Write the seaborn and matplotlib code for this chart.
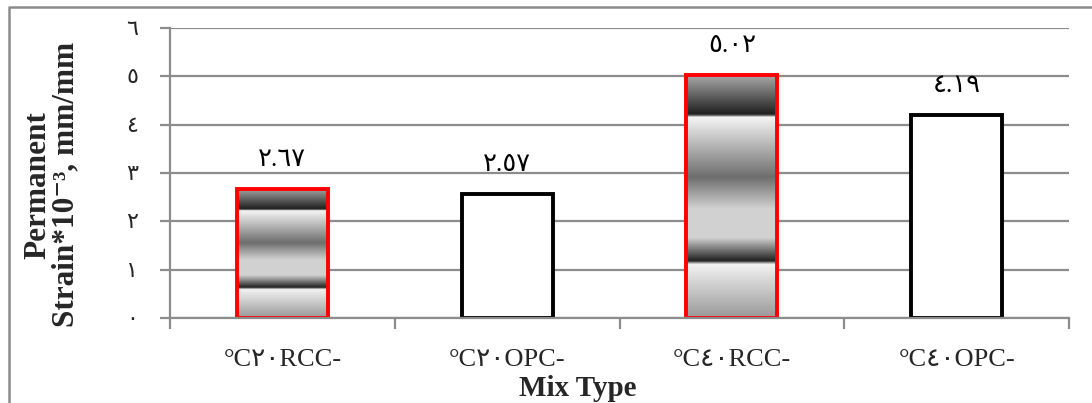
import numpy as np
import pandas as pd
import seaborn as sns
import matplotlib
matplotlib.use("Agg")
import matplotlib.pyplot as plt
from matplotlib.colors import LinearSegmentedColormap
from matplotlib.lines import Line2D

# ---- data ----
mix_labels = ["°C٢٠RCC-", "°C٢٠OPC-", "°C٤٠RCC-", "°C٤٠OPC-"]
strain_values = [2.67, 2.57, 5.02, 4.19]
is_rcc = [True, False, True, False]
y_ticks = [0, 1, 2, 3, 4, 5, 6]

ARABIC = str.maketrans("0123456789", "٠١٢٣٤٥٦٧٨٩")


def to_arabic(v):
    return str(v).translate(ARABIC)


sns.set_theme(style="white")
plt.rcParams["font.family"] = ["Liberation Serif", "DejaVu Sans"]

fig = plt.figure(figsize=(10.92, 4.03), dpi=100)
ax = fig.add_axes([170 / 1092, 1 - 318 / 403, (1069 - 170) / 1092, 290 / 403])

df = pd.DataFrame({"mix": mix_labels, "strain": strain_values})
sns.barplot(data=df, x="mix", y="strain", ax=ax, width=0.405,
            color="white", saturation=1, order=mix_labels)

# horizontal gridlines
ax.set_axisbelow(True)
ax.yaxis.grid(True, color="#8c8c8c", linewidth=1.6)
ax.xaxis.grid(False)

# banded metallic fill used for RCC bars (fraction from top, grey level)
stops = [(0.0, 0.66), (0.16, 0.12), (0.172, 0.96), (0.42, 0.43),
         (0.55, 0.82), (0.67, 0.82), (0.765, 0.13), (0.78, 0.95),
         (1.0, 0.6)]
band_cmap = LinearSegmentedColormap.from_list(
    "bands", [(p, (g, g, g)) for p, g in stops], N=512)
ramp = np.linspace(0, 1, 400).reshape(-1, 1)

bars = list(ax.patches)
for patch, rcc in zip(bars, is_rcc):
    patch.set_linewidth(2.8)
    patch.set_zorder(3)
    if rcc:
        patch.set_edgecolor("#ff0000")
        patch.set_facecolor("none")
        x0, w, h = patch.get_x(), patch.get_width(), patch.get_height()
        ax.imshow(ramp, cmap=band_cmap, vmin=0, vmax=1, aspect="auto",
                  origin="upper", extent=(x0, x0 + w, 0, h),
                  interpolation="bilinear", zorder=2.5)
    else:
        patch.set_edgecolor("black")
        patch.set_facecolor("white")

ax.set_ylim(0, 6)
ax.set_xlim(-0.5, len(mix_labels) - 0.5)

# value labels above bars
for patch, v in zip(bars, strain_values):
    ax.annotate(to_arabic(f"{v:.2f}"),
                (patch.get_x() + patch.get_width() / 2, patch.get_height()),
                xytext=(0, 13), textcoords="offset points",
                ha="center", va="bottom", fontsize=18.5, color="black")

ax.set_yticks(y_ticks)
ax.set_yticklabels([to_arabic(t) for t in y_ticks], fontsize=16)
ax.set_xticks(range(len(mix_labels)))
ax.set_xticklabels(mix_labels, fontsize=19)
ax.tick_params(axis="y", length=7, width=1.6, color="#8c8c8c", pad=16,
               left=True)
ax.tick_params(axis="x", length=0, pad=22)

# category boundary ticks on the x axis
ax.set_xticks(np.arange(-0.5, len(mix_labels), 1.0), minor=True)
ax.tick_params(axis="x", which="minor", length=8, width=1.6,
               color="#8c8c8c", bottom=True)

for side in ["top", "right"]:
    ax.spines[side].set_visible(False)
for side in ["left", "bottom"]:
    ax.spines[side].set_color("#8c8c8c")
    ax.spines[side].set_linewidth(1.6)
    ax.spines[side].set_zorder(4)

ax.set_xlabel("")
ax.set_ylabel("")
fig.text(38 / 1092, 1 - 185 / 403, "Permanent", rotation=90,
         ha="center", va="center", fontsize=22.5, fontweight="bold")
fig.text(66 / 1092, 1 - 184 / 403, "Strain*10⁻³, mm/mm", rotation=90,
         ha="center", va="center", fontsize=22.5, fontweight="bold",
         family=["Liberation Serif", "DejaVu Serif"])
fig.text(578 / 1092, 1 - 388 / 403, "Mix Type", ha="center", va="center",
         fontsize=21, fontweight="bold")

# chart-area frame
fig.add_artist(Line2D([9 / 1092, 9 / 1092, 1.0], [0.0, 1 - 7 / 403, 1 - 7 / 403],
                      transform=fig.transFigure, color="#8c8c8c", linewidth=1.8))

fig.savefig("out.png", dpi=100)
